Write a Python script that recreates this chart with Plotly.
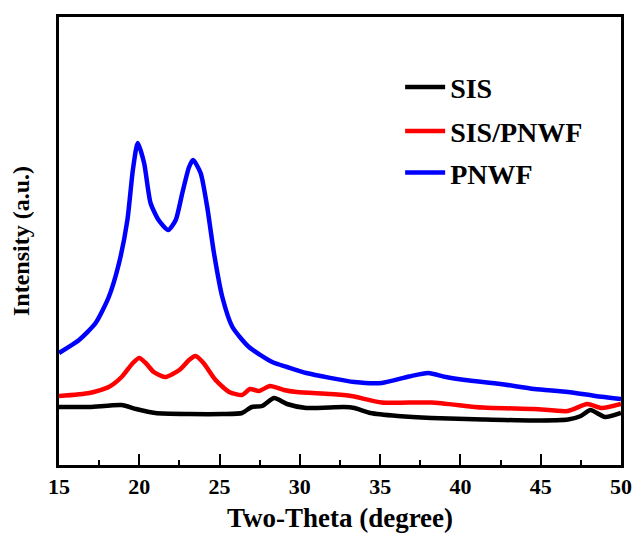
import plotly.graph_objects as go

# Two-theta (degree) and intensity (a.u.)
pnwf_x = [15.0, 16.25, 17.28, 18.1, 18.74, 19.26, 19.6, 19.9, 20.3, 20.7, 21.2, 21.8,
          22.27, 22.68, 23.1, 23.35, 23.82, 24.23, 24.65, 25.17, 25.8, 26.83, 28.28,
          29.2, 30.4, 33.4, 35.1, 36.8, 38.0, 39.1, 40.3, 42.5, 44.6, 46.7, 48.4, 50.0]
pnwf_y = [116, 129, 146, 172, 206, 249, 299, 326, 306, 266, 249, 239,
          249, 276, 302, 309, 296, 262, 216, 172, 142, 122, 107,
          102, 96, 87, 86, 92.5, 96, 92, 89, 85, 80, 77, 73, 70]

sis_pnwf_x = [15.0, 16.9, 18.1, 18.9, 19.6, 20.0, 20.4, 20.9, 21.6, 22.5, 23.1, 23.5,
              24.0, 24.75, 25.6, 26.4, 26.9, 27.45, 28.15, 29.0, 29.8, 31.9, 33.2,
              35.1, 38.2, 41.4, 44.6, 46.7, 47.9, 48.8, 50.0]
sis_pnwf_y = [73, 76, 82, 92, 106, 111, 106, 97, 92, 99, 109, 113,
              106, 89, 77, 74, 80, 78, 83, 79, 77, 75, 73,
              66.5, 66.5, 61.4, 60, 58, 65, 61, 65]

sis_x = [15.0, 16.9, 18.9, 19.8, 21.0, 23.1, 25.2, 26.4, 27.0, 27.65, 28.4, 29.2,
         30.4, 32.75, 33.4, 34.4, 36.1, 38.2, 41.4, 44.6, 46.7, 47.5, 48.1, 49.0, 50.0]
sis_y = [62, 62, 64, 60, 56, 55, 55, 56, 62, 63, 71, 65,
         61, 62, 61, 56, 53, 51, 49.5, 48.5, 49.5, 53, 59, 52, 56]

x_ticks = [15, 20, 25, 30, 35, 40, 45, 50]

FONT = "Liberation Serif"

fig = go.Figure()
fig.add_trace(go.Scatter(x=sis_x, y=sis_y, mode="lines", name="SIS", legend="legend",
                         line=dict(color="#000000", width=4.5, shape="spline", smoothing=0.6)))
fig.add_trace(go.Scatter(x=sis_pnwf_x, y=sis_pnwf_y, mode="lines", name="SIS/PNWF", legend="legend2",
                         line=dict(color="#ff0000", width=4.5, shape="spline", smoothing=0.6)))
fig.add_trace(go.Scatter(x=pnwf_x, y=pnwf_y, mode="lines", name="PNWF", legend="legend3",
                         line=dict(color="#0000ff", width=4.5, shape="spline", smoothing=0.6)))

legend_font = dict(family=FONT, size=28, color="black", weight="bold")


def legend_box(ypos):
    return dict(x=0.607, y=ypos, xanchor="left", yanchor="middle",
                bgcolor="rgba(0,0,0,0)", font=legend_font, itemwidth=40)


fig.update_layout(
    width=632, height=533,
    margin=dict(l=59, r=11, t=17, b=68),
    paper_bgcolor="white", plot_bgcolor="white",
    showlegend=True,
    legend=legend_box(0.843),
    legend2=legend_box(0.745),
    legend3=legend_box(0.652),
    font=dict(family=FONT, color="black"),
)
fig.update_xaxes(
    range=[15, 50], tickvals=x_ticks, ticks="inside", ticklen=11, tickwidth=2,
    tickcolor="black", showline=True, linecolor="black", linewidth=2.5, mirror=True,
    showgrid=False, zeroline=False, automargin=False,
    minor=dict(dtick=2.5, tick0=15, ticks="inside", ticklen=5, tickwidth=2, tickcolor="black"),
    tickfont=dict(family=FONT, size=22, color="black", weight="bold"),
    title=dict(text="Two-Theta (degree)", standoff=12,
               font=dict(family=FONT, size=27, color="black", weight="bold")),
)
fig.update_yaxes(
    range=[4, 452], showticklabels=False, ticks="", showline=True, linecolor="black",
    linewidth=2.5, mirror=True, showgrid=False, zeroline=False, automargin=False,
    title=dict(text="Intensity (a.u.)", standoff=20,
               font=dict(family=FONT, size=24, color="black", weight="bold")),
)

fig.write_html("out.html")
